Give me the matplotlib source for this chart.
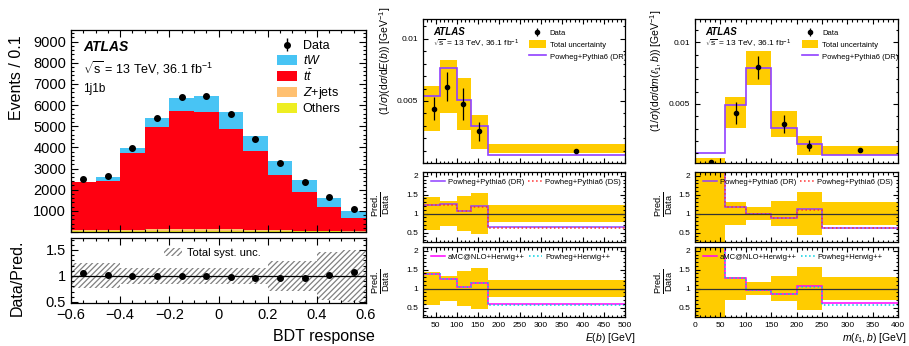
import numpy as np
import matplotlib
matplotlib.use("Agg")
import matplotlib.pyplot as plt
from matplotlib.ticker import MultipleLocator, FuncFormatter

plt.rcParams['font.family'] = ['Liberation Sans', 'DejaVu Sans']
plt.rcParams['mathtext.fontset'] = 'custom'
plt.rcParams['mathtext.rm'] = 'Liberation Sans'
plt.rcParams['mathtext.it'] = 'Liberation Sans:italic'
plt.rcParams['mathtext.bf'] = 'Liberation Sans:bold'
plt.rcParams['hatch.linewidth'] = 0.9

# ---- left panel: BDT response, 1j1b region ----
bdt_edges = [-0.6, -0.5, -0.4, -0.3, -0.2, -0.1, 0.0, 0.1, 0.2, 0.3, 0.4, 0.5, 0.6]
others = [40, 40, 50, 60, 60, 60, 60, 50, 40, 30, 25, 20]
zjets = [50, 50, 60, 60, 70, 70, 60, 50, 40, 30, 25, 20]
ttbar = [2260, 2340, 3610, 4860, 5590, 5560, 4750, 3710, 2630, 1850, 1120, 610]
tw = [30, 160, 250, 420, 630, 750, 780, 740, 660, 550, 460, 360]
bdt_data = [2510, 2650, 3970, 5370, 6390, 6440, 5580, 4380, 3260, 2370, 1650, 1080]
bdt_data_err = [50, 51, 63, 73, 80, 80, 75, 66, 57, 49, 41, 33]
bdt_syst = [0.24, 0.24, 0.15, 0.15, 0.15, 0.15, 0.15, 0.15, 0.29, 0.29, 0.47, 0.5]

# ---- middle panel: E(b) ----
eb_edges = [20, 60, 100, 135, 175, 500]
eb_x = [45, 76, 116, 153, 383]
eb_data = [0.00438, 0.00616, 0.00476, 0.00254, 0.00100]
eb_err = [0.0009, 0.0012, 0.0013, 0.0008, 0.00005]
eb_unc_lo = [0.00254, 0.00403, 0.00262, 0.00113, 0.00079]
eb_unc_hi = [0.00624, 0.00829, 0.00686, 0.00389, 0.00154]
eb_dr = [0.00537, 0.00767, 0.00505, 0.00300, 0.00065]
eb_rel_unc = [0.43, 0.34, 0.46, 0.54, 0.22]
eb_r_dr = [1.23, 1.25, 1.07, 1.19, 0.64]
eb_r_ds = [1.22, 1.24, 1.06, 1.18, 0.63]
eb_r_amc = [1.39, 1.26, 1.04, 1.16, 0.59]
eb_r_phw = [1.38, 1.25, 1.03, 1.15, 0.58]

# ---- right panel: m(l1,b) ----
m_edges = [0, 60, 100, 150, 200, 250, 400]
m_x = [31, 81, 125, 176, 225, 325]
m_data = [0.00032, 0.00427, 0.00797, 0.00338, 0.00162, 0.00122]
m_err = [0.00005, 0.00088, 0.00095, 0.00074, 0.00045, 0.00005]
m_unc_lo = [0.00014, 0.00302, 0.00654, 0.00229, 0.00081, 0.00081]
m_unc_hi = [0.00059, 0.00559, 0.00932, 0.00446, 0.00243, 0.00156]
m_dr = [0.00103, 0.00492, 0.00792, 0.00306, 0.00176, 0.00087]
m_rel_unc = [1.6, 0.295, 0.165, 0.335, 0.57, 0.295]
m_r_dr = [3.2, 1.175, 1.00, 0.895, 1.11, 0.63]
m_r_ds = [3.1, 1.17, 0.99, 0.89, 1.10, 0.62]
m_r_amc = [3.3, 1.28, 0.97, 0.87, 1.06, 0.62]
m_r_phw = [3.2, 1.27, 0.96, 0.86, 1.05, 0.58]

C_TW = '#48c4f4'
C_TT = '#ff0011'
C_Z = '#ffc070'
C_OTH = '#eeee22'
C_UNC = '#ffcc00'
C_DR = '#9040ff'
C_DS = '#ff3030'
C_AMC = '#ff00ff'
C_PHW = '#00d0e0'

W, H = 909, 346
fmt = FuncFormatter(lambda v, p: ('%g' % v).replace('-', '\u2212'))
fmt_nz = FuncFormatter(lambda v, p: '' if abs(v) < 1e-12 else '%g' % v)


def px_axes(fig, x0, y0, x1, y1):
    # axes from pixel box (top-left origin)
    return fig.add_axes([x0 / W, 1 - y1 / H, (x1 - x0) / W, (y1 - y0) / H])


def px_text(fig, x, y, s, **kw):
    # figure text placed in pixels (top-left origin)
    return fig.text(x / W, 1 - y / H, s, **kw)


def style(ax, xmaj, xmin, ymaj, ymin, size, maj=4, mnr=2):
    ax.xaxis.set_major_locator(MultipleLocator(xmaj))
    ax.xaxis.set_minor_locator(MultipleLocator(xmin))
    ax.yaxis.set_major_locator(MultipleLocator(ymaj))
    ax.yaxis.set_minor_locator(MultipleLocator(ymin))
    ax.xaxis.set_major_formatter(fmt)
    ax.yaxis.set_major_formatter(fmt)
    ax.tick_params(which='both', direction='in', top=True, right=True,
                   labelsize=size, width=0.8)
    ax.tick_params(which='major', length=maj)
    ax.tick_params(which='minor', length=mnr)
    for s in ax.spines.values():
        s.set_linewidth(0.9)


fig = plt.figure(figsize=(W / 100, H / 100), dpi=100)

# ================= left =================
ax1 = px_axes(fig, 71, 30, 366, 232)
ax1r = px_axes(fig, 71, 238, 366, 303)
edges = np.array(bdt_edges)
left = edges[:-1]
wid = np.diff(edges)
bottom = np.zeros(len(left))
stack = []
for vals, col, lab in [(others, C_OTH, 'Others'), (zjets, C_Z, '$Z$+jets'),
                       (ttbar, C_TT, r'$t\bar{t}$'), (tw, C_TW, '$tW$')]:
    b = ax1.bar(left, vals, width=wid, bottom=bottom, align='edge', color=col,
                linewidth=0)
    stack.append((b, lab))
    bottom = bottom + np.array(vals)
centers = left + wid / 2
dat = ax1.errorbar(centers, bdt_data, yerr=bdt_data_err, fmt='o', color='k',
                   ms=4, elinewidth=1, capsize=0)
ax1.set_xlim(-0.6, 0.6)
ax1.set_ylim(0, 9550)
style(ax1, 0.2, 0.05, 1000, 200, 10.5, 5, 2.5)
ax1.yaxis.set_major_formatter(fmt_nz)
ax1.tick_params(labelbottom=False)
px_text(fig, 17, 35, 'Events / 0.1', fontsize=11.5, rotation=90,
        ha='center', va='top')
ax1.text(0.04, 0.915, 'ATLAS', transform=ax1.transAxes, fontsize=10,
         fontweight='bold', style='italic', va='center')
ax1.text(0.04, 0.81, r'$\sqrt{\mathrm{s}}$ = 13 TeV, 36.1 fb$^{-1}$',
         transform=ax1.transAxes, fontsize=9, va='center')
ax1.text(0.04, 0.71, '1j1b', transform=ax1.transAxes, fontsize=8.5, va='center')
ax1.legend([dat] + [h for h, _ in stack[::-1]],
           ['Data'] + [l for _, l in stack[::-1]],
           loc='upper left', bbox_to_anchor=(0.68, 0.975), frameon=False,
           fontsize=9, handlelength=1.6, handleheight=0.85, labelspacing=0.12,
           borderaxespad=0, handletextpad=0.5)

syst = np.array(bdt_syst)
ax1r.bar(left, 2 * syst, width=wid, bottom=1 - syst, align='edge', fill=False,
         hatch='//////', edgecolor='#808080', linewidth=0,
         label='Total syst. unc.')
ax1r.axhline(1, color='k', lw=0.9)
ratio = np.array(bdt_data) / bottom
ax1r.plot(centers, ratio, 'o', color='k', ms=4)
ax1r.set_xlim(-0.6, 0.6)
ax1r.set_ylim(0.48, 1.73)
style(ax1r, 0.2, 0.05, 0.5, 0.1, 10.5, 5, 2.5)
px_text(fig, 17, 278, 'Data/Pred.', fontsize=11.5, rotation=90,
        ha='center', va='center')
px_text(fig, 375, 337, 'BDT response', fontsize=11.5, ha='right', va='center')
ax1r.legend(loc='upper left', bbox_to_anchor=(0.30, 0.92), frameon=False,
            fontsize=8, handlelength=1.6, borderaxespad=0, handletextpad=0.5)


# ================= middle / right =================
def diff_panel(x0, x1, edges, xs, data, err, lo, hi, dr, rel, r_dr, r_ds,
               r_amc, r_phw, xlim, ylim, ylab, xlab, ylab_pos, rlab_x,
               xlab_x):
    ax = px_axes(fig, x0, 19, x1, 163)
    r1 = px_axes(fig, x0, 172, x1, 242)
    r2 = px_axes(fig, x0, 247, x1, 317)
    edges = np.array(edges)
    lft = edges[:-1]
    wd = np.diff(edges)
    lo = np.array(lo)
    hi = np.array(hi)
    band = ax.bar(lft, hi - lo, bottom=lo, width=wd, align='edge',
                  color=C_UNC, linewidth=0)
    line = ax.stairs(dr, edges, baseline=None, color=C_DR, lw=1.2)
    d = ax.errorbar(xs, data, yerr=err, fmt='o', color='k', ms=3,
                    elinewidth=0.9, capsize=0)
    ax.set_xlim(*xlim)
    ax.set_ylim(*ylim)
    style(ax, 50, 10, 0.005, 0.001, 6, 3.5, 1.8)
    ax.yaxis.set_major_formatter(fmt_nz)
    ax.tick_params(labelbottom=False)
    px_text(fig, ylab_pos[0], ylab_pos[1], ylab, fontsize=7.5, rotation=90,
            ha='center', va='top')
    ax.text(0.05, 0.912, 'ATLAS', transform=ax.transAxes, fontsize=7,
            fontweight='bold', style='italic', va='center')
    ax.text(0.05, 0.826, r'$\sqrt{\mathrm{s}}$ = 13 TeV, 36.1 fb$^{-1}$',
            transform=ax.transAxes, fontsize=6, va='center')
    ax.legend([d, band, line],
              ['Data', 'Total uncertainty', 'Powheg+Pythia6 (DR)'],
              loc='upper left', bbox_to_anchor=(0.51, 0.955), frameon=False,
              fontsize=5.5, handlelength=2.2, handleheight=1.2,
              labelspacing=0.45, borderaxespad=0, handletextpad=0.5)

    rel = np.array(rel)
    for r, a, b, la, lb, yc in [(r1, r_dr, r_ds, 'Powheg+Pythia6 (DR)',
                                 'Powheg+Pythia6 (DS)', 204),
                                (r2, r_amc, r_phw, 'aMC@NLO+Herwig++',
                                 'Powheg+Herwig++', 281)]:
        r.bar(lft, 2 * rel, bottom=1 - rel, width=wd, align='edge',
              color=C_UNC, linewidth=0)
        r.axhline(1, color='#333333', lw=0.9)
        ca, cb = (C_DR, C_DS) if r is r1 else (C_AMC, C_PHW)
        r.stairs(a, edges, baseline=None, color=ca, lw=1.1, label=la)
        r.stairs(b, edges, baseline=None, color=cb, lw=1.1, ls=':', label=lb)
        r.set_xlim(*xlim)
        r.set_ylim(0.25, 2.1)
        style(r, 50, 10, 0.5, 0.1, 6, 3.5, 1.8)
        px_text(fig, rlab_x, yc, r'$\frac{\mathrm{Pred.}}{\mathrm{Data}}$',
                fontsize=9.5, rotation=90, ha='center', va='center')
        r.legend(loc='upper left', bbox_to_anchor=(0.025, 0.95), ncol=2,
                 frameon=False, fontsize=5.5, handlelength=1.8,
                 columnspacing=0.5, borderaxespad=0, handletextpad=0.4)
    r1.tick_params(labelbottom=False)
    px_text(fig, xlab_x, 338, xlab, fontsize=7.5, ha='right', va='center')


diff_panel(423, 625, eb_edges, eb_x, eb_data, eb_err, eb_unc_lo, eb_unc_hi,
           eb_dr, eb_rel_unc, eb_r_dr, eb_r_ds, eb_r_amc, eb_r_phw,
           (20, 500), (0, 0.0116),
           r'$(1/\sigma)(\mathrm{d}\sigma/\mathrm{d}E(b))$ [GeV$^{-1}$]',
           r'$E(b)$ [GeV]', (385, 7), 382, 635)

diff_panel(695, 898, m_edges, m_x, m_data, m_err, m_unc_lo, m_unc_hi,
           m_dr, m_rel_unc, m_r_dr, m_r_ds, m_r_amc, m_r_phw,
           (0, 400), (0.0002, 0.0119),
           r'$(1/\sigma)(\mathrm{d}\sigma/\mathrm{d}m(\ell_1,b))$ [GeV$^{-1}$]',
           r'$m(\ell_1,b)$ [GeV]', (656, 10), 665, 906)

fig.savefig('out.png', dpi=100)
